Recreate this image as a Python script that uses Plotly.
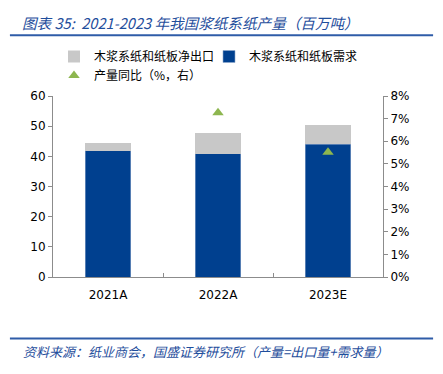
import plotly.graph_objects as go

categories = ["2021A", "2022A", "2023E"]
demand = [41.9, 40.9, 44.0]
net_export = [2.5, 6.7, 6.3]
yoy = [None, 0.0726, 0.0551]

FONT = "DejaVu Sans"
CJK = "Noto Sans CJK SC"

fig = go.Figure()
fig.add_trace(go.Bar(x=categories, y=demand, name="木浆系纸和纸板需求",
                     marker=dict(color="#00408f", line=dict(width=0.6, color="#8fa8cc")),
                     legendrank=2))
fig.add_trace(go.Bar(x=categories, y=net_export, name="木浆系纸和纸板净出口",
                     marker=dict(color="#c8c8c8", line=dict(width=0)),
                     legendrank=1))
fig.add_trace(go.Scatter(x=categories, y=yoy, name="产量同比（%，右）", mode="markers",
                         marker=dict(symbol="triangle-up", size=10, color="#8db64f"),
                         yaxis="y2", legendrank=3))

PH = 181.6
fig.update_layout(
    width=443, height=374,
    margin=dict(l=53, r=60, t=96, b=97, autoexpand=False),
    paper_bgcolor="white", plot_bgcolor="white",
    barmode="stack", bargap=0.59,
    font=dict(family=FONT, size=12, color="#000"),
    showlegend=True,
    legend=dict(orientation="h", x=54 / 443, y=1 - 42 / 374, xref="container", yref="container",
                xanchor="left", yanchor="top", traceorder="normal",
                entrywidth=110, entrywidthmode="pixels",
                font=dict(family=CJK, size=12, color="#000"),
                itemwidth=30, tracegroupgap=0, bgcolor="rgba(0,0,0,0)"),
    xaxis=dict(showline=True, linecolor="#8c8c8c", linewidth=1,
               ticks="inside", tickson="boundaries", ticklen=4, tickcolor="#8c8c8c",
               ticklabelstandoff=7,
               tickfont=dict(family=FONT, size=12), showgrid=False),
    yaxis=dict(range=[0, 60], dtick=10, showline=True, linecolor="#8c8c8c",
               ticks="outside", ticklen=4, tickcolor="#8c8c8c", showgrid=False,
               zeroline=False, tickfont=dict(family=FONT, size=12)),
    yaxis2=dict(range=[0, 0.08], dtick=0.01, tickformat=".0%", overlaying="y", side="right",
                showline=True, linecolor="#8c8c8c", ticks="outside", ticklen=4,
                tickcolor="#8c8c8c", showgrid=False, zeroline=False,
                tickfont=dict(family=FONT, size=12)),
    shapes=[
        dict(type="line", xref="paper", yref="paper", x0=-43 / 329.4, x1=1 + 50 / 329.4,
             y0=1.0 + (96 - 35) / PH, y1=1.0 + (96 - 35) / PH,
             line=dict(color="#2f5ca8", width=2)),
        dict(type="line", xref="paper", yref="paper", x0=-43 / 329.4, x1=1 + 50 / 329.4,
             y0=-(339 - 277.3) / PH, y1=-(339 - 277.3) / PH,
             line=dict(color="#2f5ca8", width=2)),
    ],
    annotations=[
        dict(text="<i>图表 35:  2021-2023 年我国浆纸系纸产量（百万吨）</i>",
             xref="paper", yref="paper", x=-33 / 329.4, y=1.0 + (96 - 22) / PH,
             xanchor="left", yanchor="middle", showarrow=False,
             font=dict(family=CJK, size=14.6, color="#1f4e9c")),
        dict(text="<i>资料来源：纸业商会，国盛证券研究所（产量=出口量+需求量）</i>",
             xref="paper", yref="paper", x=-32 / 329.4, y=-(352 - 277.3) / PH,
             xanchor="left", yanchor="middle", showarrow=False,
             font=dict(family=CJK, size=13, color="#1f4e9c")),
    ],
)

fig.write_html("out.html", config={"displayModeBar": False},
               post_script="document.body.style.margin='0';")
